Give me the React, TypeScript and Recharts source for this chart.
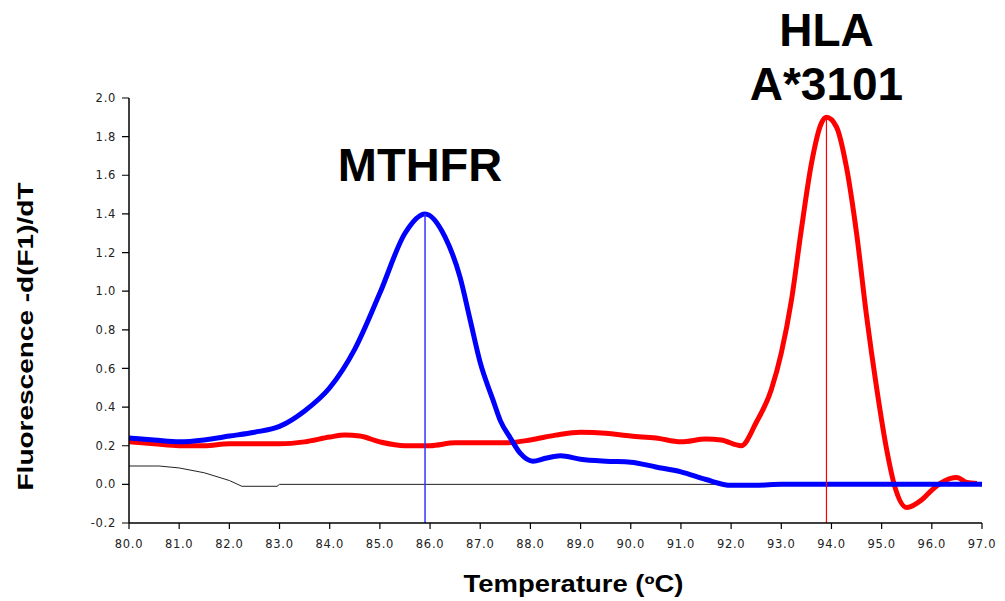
import { LineChart, Line, XAxis, YAxis, ReferenceLine } from 'recharts';

// melt curve: -d(F1)/dT vs temperature
const xTicks = [80, 81, 82, 83, 84, 85, 86, 87, 88, 89, 90, 91, 92, 93, 94, 95, 96, 97];
const yTicks = [-0.2, 0, 0.2, 0.4, 0.6, 0.8, 1.0, 1.2, 1.4, 1.6, 1.8, 2.0];

const mthfrTemps = [80, 80.5, 81, 81.5, 82, 82.5, 83, 83.5, 84, 84.5, 85, 85.5, 85.9, 86.3, 86.6, 86.8, 87, 87.25, 87.4, 87.6, 87.8, 88.05, 88.3, 88.6, 89, 89.5, 90, 90.5, 91, 91.5, 92, 92.5, 93, 94, 95, 96, 97];
const mthfrValues = [0.24, 0.23, 0.22, 0.23, 0.25, 0.27, 0.30, 0.38, 0.50, 0.70, 0.99, 1.30, 1.40, 1.28, 1.07, 0.85, 0.63, 0.44, 0.33, 0.24, 0.16, 0.12, 0.135, 0.148, 0.13, 0.12, 0.115, 0.09, 0.065, 0.025, -0.005, -0.005, 0, 0, 0, 0, 0];

const hlaTemps = [80, 80.5, 81, 81.5, 82, 82.5, 83, 83.5, 84, 84.3, 84.6, 85, 85.5, 86, 86.5, 87, 87.5, 88, 88.5, 89, 89.5, 90, 90.5, 91, 91.5, 91.8, 92.2, 92.5, 92.8, 93, 93.2, 93.4, 93.6, 93.8, 93.9, 94.1, 94.3, 94.5, 94.7, 94.9, 95.1, 95.25, 95.5, 95.8, 96, 96.2, 96.5, 96.7, 96.9];
const hlaValues = [0.22, 0.21, 0.20, 0.20, 0.21, 0.21, 0.21, 0.22, 0.245, 0.255, 0.25, 0.22, 0.20, 0.20, 0.215, 0.215, 0.215, 0.23, 0.255, 0.27, 0.265, 0.25, 0.24, 0.22, 0.235, 0.23, 0.20, 0.32, 0.49, 0.68, 0.95, 1.32, 1.66, 1.87, 1.90, 1.85, 1.64, 1.30, 0.87, 0.50, 0.18, 0.0, -0.12, -0.08, -0.03, 0.01, 0.035, 0.01, 0.005];

const blankTemps = [80, 80.6, 81, 81.5, 82, 82.25, 82.95, 83, 97];
const blankValues = [0.095, 0.095, 0.085, 0.06, 0.02, -0.01, -0.01, 0, 0];

const mthfrPeak = 85.9;
const hlaPeak = 93.9;

const toPoints = (temps: number[], values: number[]) =>
  temps.map((t, i) => ({ t, v: values[i] }));

const mthfrData = toPoints(mthfrTemps, mthfrValues);
const hlaData = toPoints(hlaTemps, hlaValues);
const blankData = toPoints(blankTemps, blankValues);

const tickStyle = { fontFamily: 'DejaVu Sans', fontSize: 11.5, fill: '#222', letterSpacing: 0.7 };
const titleFont = 'Liberation Sans, Arial, sans-serif';

const YTitle = ({ viewBox }: any) => {
  const cx = viewBox.x - 36;
  const cy = viewBox.y + viewBox.height / 2 + 26;
  return (
    <text
      x={cx}
      y={cy}
      transform={`rotate(-90 ${cx} ${cy})`}
      textAnchor="middle"
      fontFamily={titleFont}
      fontWeight="bold"
      fontSize={22}
      textLength={308}
      lengthAdjust="spacingAndGlyphs"
      fill="#000"
    >
      Fluorescence -d(F1)/dT
    </text>
  );
};

const XTitle = ({ viewBox }: any) => (
  <text
    x={viewBox.x + viewBox.width / 2 + 18}
    y={592}
    textAnchor="middle"
    fontFamily={titleFont}
    fontWeight="bold"
    fontSize={23}
    textLength={220}
    lengthAdjust="spacingAndGlyphs"
    fill="#000"
  >
    Temperature (ºC)
  </text>
);

const MthfrLabel = ({ viewBox }: any) => (
  <text
    x={viewBox.x - 5}
    y={viewBox.y - 33}
    textAnchor="middle"
    fontFamily={titleFont}
    fontWeight="bold"
    fontSize={47}
    fill="#000"
  >
    MTHFR
  </text>
);

const HlaLabel = ({ viewBox }: any) => (
  <text textAnchor="middle" fontFamily={titleFont} fontWeight="bold" fontSize={46} fill="#000">
    <tspan x={viewBox.x} y={viewBox.y - 71}>HLA</tspan>
    <tspan x={viewBox.x} y={viewBox.y - 17}>A*3101</tspan>
  </text>
);

export default function App() {
  return (
    <div style={{ position: 'absolute', left: 0, top: 0, background: '#fff' }}>
      <LineChart width={1005} height={601} margin={{ top: 98, right: 23, bottom: 48, left: 69 }}>
        <XAxis
          type="number"
          dataKey="t"
          domain={[80, 97]}
          ticks={xTicks}
          allowDataOverflow
          tickFormatter={(v: number) => v.toFixed(1)}
          tick={tickStyle}
          height={30}
          tickSize={13}
          tickMargin={4}
          axisLine={{ stroke: '#000', strokeWidth: 1.5 }}
          tickLine={{ stroke: '#000', strokeWidth: 1.2, strokeDasharray: '0 7 6' }}
          label={{ content: <XTitle /> }}
        />
        <YAxis
          type="number"
          domain={[-0.2, 2.0]}
          ticks={yTicks}
          allowDataOverflow
          tickFormatter={(v: number) => v.toFixed(1)}
          tick={tickStyle}
          width={60}
          tickSize={10}
          tickMargin={3}
          axisLine={{ stroke: '#000', strokeWidth: 1.5 }}
          tickLine={{ stroke: '#000', strokeWidth: 1.2, strokeDasharray: '0 3 7' }}
          label={{ content: <YTitle /> }}
        />
        <Line
          data={blankData}
          dataKey="v"
          type="linear"
          stroke="#222"
          strokeWidth={1}
          dot={false}
          isAnimationActive={false}
        />
        <Line
          data={hlaData}
          dataKey="v"
          type="monotone"
          stroke="#ff0000"
          strokeWidth={5}
          dot={false}
          isAnimationActive={false}
        />
        <Line
          data={mthfrData}
          dataKey="v"
          type="monotone"
          stroke="#0000ff"
          strokeWidth={5}
          dot={false}
          isAnimationActive={false}
        />
        <ReferenceLine
          segment={[{ x: mthfrPeak, y: -0.2 }, { x: mthfrPeak, y: 1.4 }]}
          stroke="#3333ff"
          strokeWidth={1.5}
          label={{ content: <MthfrLabel /> }}
        />
        <ReferenceLine
          segment={[{ x: hlaPeak, y: -0.2 }, { x: hlaPeak, y: 1.9 }]}
          stroke="#ff0000"
          strokeWidth={1.2}
          label={{ content: <HlaLabel /> }}
        />
      </LineChart>
    </div>
  );
}
